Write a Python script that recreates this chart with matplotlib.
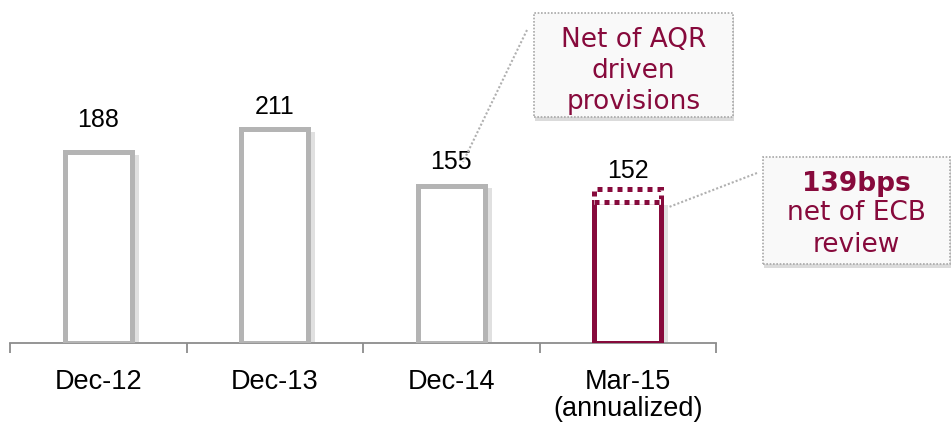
import matplotlib
matplotlib.use('Agg')
import matplotlib.pyplot as plt
import matplotlib.patheffects as pe
from matplotlib.patches import Rectangle
from matplotlib.lines import Line2D

# ---- data ----
categories = ['Dec-12', 'Dec-13', 'Dec-14', 'Mar-15\n(annualized)']
values = [188, 211, 155, 152]
mar_net_ecb = 139
callout_aqr = 'Net of AQR\ndriven\nprovisions'
callout_ecb_bold = '139bps'
callout_ecb = 'net of ECB\nreview'

GREY = '#b4b4b4'
MAROON = '#870a3c'
W, H = 951, 422

plt.rcParams['font.family'] = ['Liberation Sans', 'DejaVu Sans']

fig = plt.figure(figsize=(W / 100, H / 100), dpi=100)
ax = fig.add_axes([10 / W, 1 - 343 / H, 706 / W, 343 / H])
ax.set_xlim(-0.5, len(categories) - 0.5)
ax.set_ylim(0, 343 / 1.015)


def px(x, y):
    # pixel position (from top-left) -> figure fraction
    return x / W, 1 - y / H


shadow = [pe.SimplePatchShadow(offset=(5, -2), shadow_rgbFace='#999999', alpha=0.3),
          pe.Normal()]
lw = 3.6
bw = 0.38
xs = list(range(len(categories)))

# grey bars
for i in xs[:3]:
    ax.bar(i, values[i], width=bw, facecolor='white', edgecolor=GREY,
           linewidth=lw, path_effects=shadow, zorder=3)

# Mar-15: dotted reported value + solid value net of ECB review
i = xs[3]
ax.bar(i, values[i], width=bw, facecolor='none', edgecolor=MAROON,
       linewidth=lw, linestyle=(0, (1, 1)), zorder=3)
ax.bar(i, mar_net_ecb, width=bw, facecolor='white', edgecolor=MAROON,
       linewidth=lw, path_effects=shadow, zorder=4)
ax.plot([i - bw / 2, i + bw / 2], [mar_net_ecb, mar_net_ecb], color='white',
        lw=lw + 0.5, solid_capstyle='butt', zorder=5)
ax.plot([i - bw / 2, i + bw / 2], [mar_net_ecb, mar_net_ecb], color=MAROON,
        lw=lw, linestyle=(0, (1, 1)), zorder=6)

# value labels
label_offsets = [23, 16, 17, 13]
for i, v, off in zip(xs, values, label_offsets):
    ax.annotate(str(v), (i, v), xytext=(0, off), textcoords='offset points',
                ha='center', va='center', fontsize=18, color='black')

# axis styling
for s in ['top', 'right', 'left']:
    ax.spines[s].set_visible(False)
ax.spines['bottom'].set_color('#8c8c8c')
ax.spines['bottom'].set_linewidth(1.3)
ax.set_yticks([])
ax.set_xticks(xs)
ax.set_xticklabels(categories, fontsize=19.5, linespacing=1.05)
ax.tick_params(axis='x', which='major', length=0, pad=19)
ax.set_xticks([x - 0.5 for x in xs] + [xs[-1] + 0.5], minor=True)
ax.tick_params(axis='x', which='minor', length=7, width=1.3, color='#8c8c8c')

# callout boxes
box_shadow = [pe.SimplePatchShadow(offset=(1, -3), shadow_rgbFace='#999999', alpha=0.35),
              pe.Normal()]


def callout(x0, y0, x1, y1):
    fx0, fy1 = px(x0, y1)
    fx1, fy0 = px(x1, y0)
    r = Rectangle((fx0, fy1), fx1 - fx0, fy0 - fy1, transform=fig.transFigure,
                  facecolor='#f9f9f9', edgecolor='#a8a8a8', linewidth=1.2,
                  linestyle=(0, (1, 1)), path_effects=box_shadow, zorder=10)
    fig.add_artist(r)


callout(534, 13, 733, 117)
callout(763, 157, 950, 264)

# connector lines
for (xa, ya), (xb, yb) in [((527, 30), (463, 162)), ((757, 173), (669, 207))]:
    a, b = px(xa, ya), px(xb, yb)
    fig.add_artist(Line2D([a[0], b[0]], [a[1], b[1]], transform=fig.transFigure,
                          color='#b0b0b0', lw=1.5, linestyle=(0, (1, 1)), zorder=9))

tx, ty = px(633.5, 71)
fig.text(tx, ty, callout_aqr, ha='center', va='center', fontsize=19,
         family='DejaVu Sans', color=MAROON, linespacing=1.25, zorder=11)
tx, ty = px(856, 184)
fig.text(tx, ty, callout_ecb_bold, ha='center', va='center', fontsize=19,
         family='DejaVu Sans', weight='bold', color=MAROON, zorder=11)
tx, ty = px(856, 229)
fig.text(tx, ty, callout_ecb, ha='center', va='center', fontsize=19,
         family='DejaVu Sans', color=MAROON, linespacing=1.25, zorder=11)

fig.savefig('out.png', dpi=100)
